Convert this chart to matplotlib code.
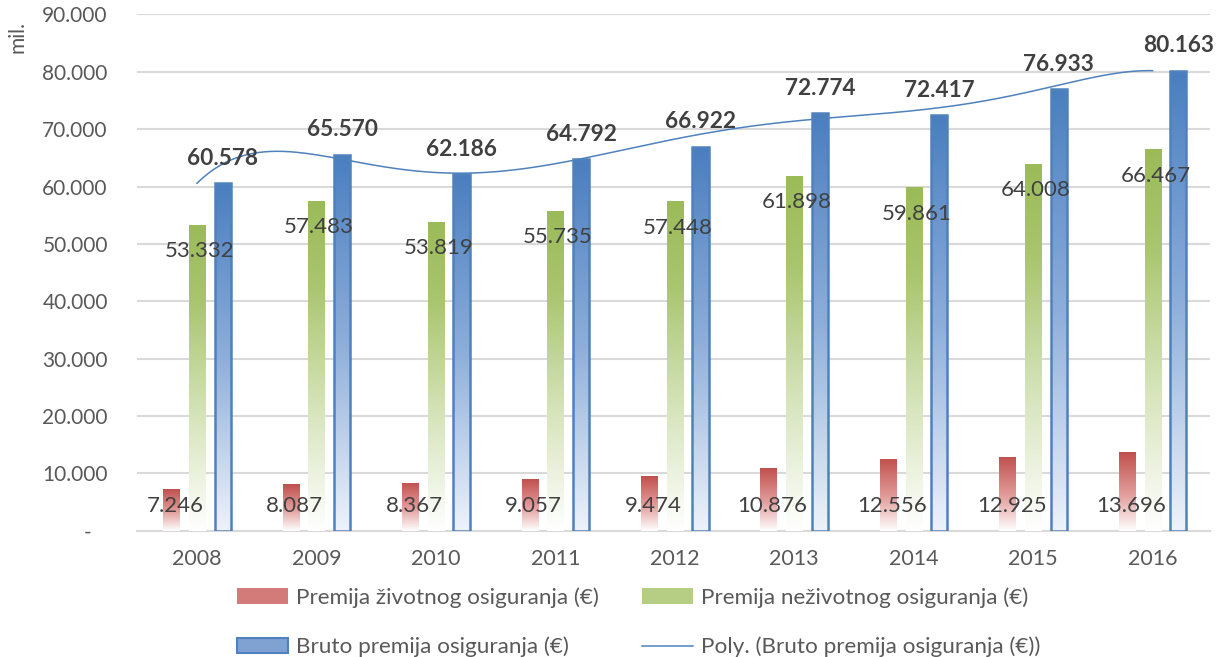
import numpy as np
import matplotlib
matplotlib.use("Agg")
import matplotlib.pyplot as plt
from matplotlib.colors import LinearSegmentedColormap
from matplotlib.patches import Patch
from matplotlib.lines import Line2D

plt.rcParams['font.family'] = ['Lato', 'DejaVu Sans']

years = ['2008', '2009', '2010', '2011', '2012', '2013', '2014', '2015', '2016']
zivotno = [7246, 8087, 8367, 9057, 9474, 10876, 12556, 12925, 13696]
nezivotno = [53332, 57483, 53819, 55735, 57448, 61898, 59861, 64008, 66467]
bruto = [60578, 65570, 62186, 64792, 66922, 72774, 72417, 76933, 80163]

labels = ['Premija životnog osiguranja (€)', 'Premija neživotnog osiguranja (€)',
          'Bruto premija osiguranja (€)', 'Poly. (Bruto premija osiguranja (€))']


def fmt(v):
    return f'{v:,.0f}'.replace(',', '.')


def gradient_bars(ax, bars, cmap):
    # fill each bar with a vertical gradient, clipped to the bar shape
    grad = np.linspace(0, 1, 256).reshape(-1, 1)
    for b in bars:
        x0, y0 = b.get_x(), b.get_y()
        w, h = b.get_width(), b.get_height()
        im = ax.imshow(grad, cmap=cmap, origin='lower', aspect='auto',
                       extent=(x0, x0 + w, y0, y0 + h), zorder=b.get_zorder() - 0.1)
        im.set_clip_path(b)


fig = plt.figure(figsize=(12.23, 6.57), dpi=100)
ax = fig.add_axes([0.112, 0.192, 0.877, 0.786])

x = np.arange(len(years))
w = 0.135
off = 0.215

red_cm = LinearSegmentedColormap.from_list('r', [(0, '#FFFFFF'), (0.45, '#E3A09E'), (1, '#C0504D')])
green_cm = LinearSegmentedColormap.from_list('g', [(0, '#FFFFFF'), (0.4, '#D3E2B5'), (0.75, '#A9C56E'), (1, '#9BBB59')])
blue_cm = LinearSegmentedColormap.from_list('b', [(0, '#EEF3FA'), (0.5, '#8DAEDA'), (1, '#4A7EBF')])

b1 = ax.bar(x - off, zivotno, w, color='none', zorder=3)
b2 = ax.bar(x, nezivotno, w, color='none', zorder=3)
b3 = ax.bar(x + off, bruto, w, color='none', edgecolor='#4F81BD', linewidth=1.8, zorder=3)
gradient_bars(ax, b1, red_cm)
gradient_bars(ax, b2, green_cm)
gradient_bars(ax, b3, blue_cm)

# polynomial trendline through the gross premium
coef = np.polyfit(x, bruto, 6)
xs = np.linspace(x[0], x[-1], 300)
ax.plot(xs, np.polyval(coef, xs), color='#4F81BD', lw=1.1, zorder=4)

txt = '#404040'
for i in range(len(years)):
    ax.annotate(fmt(zivotno[i]), (x[i] - off, 0), xytext=(3, 11), textcoords='offset points',
                ha='center', va='bottom', fontsize=16, color=txt, zorder=6)
    ax.annotate(fmt(nezivotno[i]), (x[i], nezivotno[i]), xytext=(2, -19), textcoords='offset points',
                ha='center', va='center', fontsize=16, color=txt, zorder=6)
    ax.annotate(fmt(bruto[i]), (x[i] + off, bruto[i]), xytext=(0, 18), textcoords='offset points',
                ha='center', va='center', fontsize=16.3, color=txt, fontweight='bold', zorder=6)

ax.set_xlim(-0.502, 8.477)
ax.set_ylim(0, 90000)
ax.set_yticks(np.arange(0, 90001, 10000))
ax.set_yticklabels(['-   '] + [fmt(v) for v in range(10000, 90001, 10000)])
ax.set_xticks(x)
ax.set_xticklabels(years)
ax.tick_params(axis='y', length=0, pad=21, labelsize=15, labelcolor='#595959')
ax.tick_params(axis='x', length=0, pad=13, labelsize=15.5, labelcolor='#595959')
ax.grid(axis='y', color='#D9D9D9', lw=1.5, zorder=0)
ax.set_axisbelow(True)
for s in ['left', 'right', 'top']:
    ax.spines[s].set_visible(False)
ax.spines['bottom'].set_color('#D9D9D9')
ax.spines['bottom'].set_linewidth(1.5)

fig.text(0.014, 0.968, 'mil.', rotation=90, ha='center', va='top', fontsize=15, color='#595959')

# column-major order so rows read: red, green / blue, poly
handles = [Patch(facecolor='#D27B79', edgecolor='none'),
           Patch(facecolor='#7FA2D3', edgecolor='#4F81BD', linewidth=1.5),
           Patch(facecolor='#B5CE84', edgecolor='none'),
           Line2D([0], [0], color='#4F81BD', lw=1.1)]
leg_labels = [labels[0], labels[2], labels[1], labels[3]]
leg = fig.legend(handles, leg_labels, ncol=2, loc='upper left', bbox_to_anchor=(237 / 1223, 1 - 587 / 657),
                 frameon=False, fontsize=16.2, handlelength=2.27, handleheight=0.7,
                 handletextpad=0.35, columnspacing=1.9, labelspacing=1.3,
                 borderpad=0, borderaxespad=0)
for t in leg.get_texts():
    t.set_color('#595959')

fig.savefig('out.png', dpi=100)
